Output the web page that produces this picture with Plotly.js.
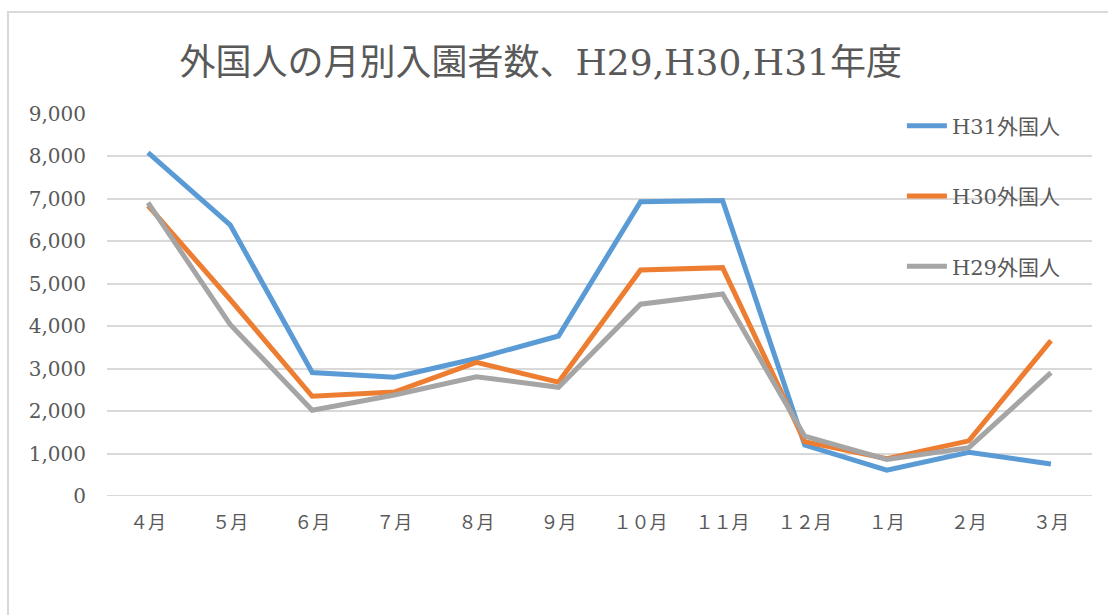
<!DOCTYPE html>
<html>
<head>
<meta charset="utf-8">
<script src="https://cdn.plot.ly/plotly-3.0.1.min.js"></script>
<style>
  html, body { margin: 0; padding: 0; background: #ffffff; }
  #frame { position: absolute; left: 7px; top: 11px; width: 1110px; height: 620px; border: 2px solid #d9d9d9; box-sizing: border-box; }
  #chart { position: absolute; left: 0; top: 0; width: 1108px; height: 615px; }
</style>
</head>
<body>
<div id="frame"></div>
<div id="chart"></div>
<script>
const months = ["４月", "５月", "６月", "７月", "８月", "９月", "１０月", "１１月", "１２月", "１月", "２月", "３月"];
const seriesNames = ["H31外国人", "H30外国人", "H29外国人"];
const h31 = [8090, 6390, 2910, 2800, 3240, 3770, 6935, 6960, 1200, 610, 1030, 755];
const h30 = [6840, 4630, 2350, 2450, 3150, 2680, 5325, 5380, 1280, 880, 1300, 3660];
const h29 = [6910, 4040, 2020, 2380, 2810, 2560, 4520, 4760, 1410, 860, 1140, 2905];
const colors = ["#5B9BD5", "#ED7D31", "#A5A5A5"];

const values = [h31, h30, h29];
// drawn in order H31, H30, H29 (H29 on top); legend ranks keep H31 first
const traces = values.map((v, i) => ({
  type: "scatter",
  mode: "lines",
  name: seriesNames[i],
  legendgroup: "g" + i,
  legendrank: i + 1,
  x: months,
  y: v,
  line: { color: colors[i], width: 5, shape: "linear" },
  hoverinfo: "x+y+name"
}));

const layout = {
  width: 1108,
  height: 615,
  margin: { l: 107, r: 16, t: 114, b: 119 },
  paper_bgcolor: "rgba(0,0,0,0)",
  plot_bgcolor: "rgba(0,0,0,0)",
  showlegend: true,
  title: {
    text: "外国人の月別入園者数、H29,H30,H31年度",
    font: { family: "DejaVu Serif, Noto Sans CJK JP", size: 36, color: "#595959" },
    x: 0.488, xref: "container", xanchor: "center",
    y: 0.899, yref: "container", yanchor: "middle"
  },
  xaxis: {
    type: "category",
    categoryorder: "array",
    categoryarray: months,
    range: [-0.5, 11.5],
    showgrid: false,
    showline: false,
    zeroline: false,
    ticks: "",
    ticklabelstandoff: 14,
    tickfont: { family: "Noto Sans CJK JP", size: 18, color: "#595959" }
  },
  yaxis: {
    range: [0, 9000],
    dtick: 1000,
    tick0: 0,
    tickformat: ",",
    showgrid: true,
    gridcolor: "#d9d9d9",
    gridwidth: 2,
    zeroline: false,
    showline: false,
    ticks: "",
    ticklabelstandoff: 20,
    tickfont: { family: "DejaVu Serif", size: 20, color: "#595959" }
  },
  shapes: [
    { type: "line", xref: "paper", yref: "y", x0: 0, x1: 1, y0: 0, y1: 0, line: { color: "#d9d9d9", width: 2 }, layer: "below" }
  ],
  legend: {
    x: 0.807, xanchor: "left",
    y: 1.022, yanchor: "top",
    bgcolor: "rgba(0,0,0,0)",
    traceorder: "grouped",
    tracegroupgap: 40,
    font: { family: "DejaVu Serif, Noto Sans CJK JP", size: 21, color: "#595959" },
    itemwidth: 40
  }
};

Plotly.newPlot("chart", traces, layout, { displayModeBar: false, staticPlot: true });
</script>
</body>
</html>
